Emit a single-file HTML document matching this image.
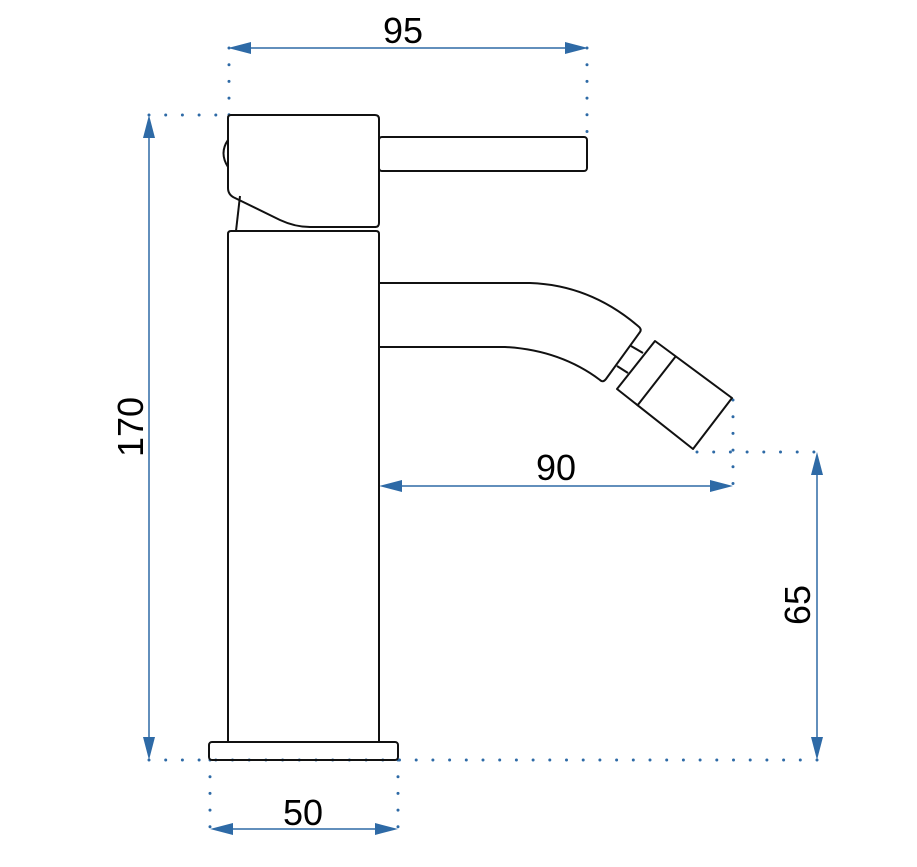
<!DOCTYPE html>
<html><head><meta charset="utf-8"><style>
html,body{margin:0;padding:0;background:#fff;}
svg{display:block}
text{font-family:"Liberation Sans",sans-serif;font-size:36px;fill:#000}
</style></head><body>
<svg width="917" height="867" viewBox="0 0 917 867" xmlns="http://www.w3.org/2000/svg">
<g fill="none" stroke="#2e6aa6" stroke-width="3" stroke-linecap="round" stroke-dasharray="0 16.7">
  <line x1="229" y1="48" x2="229" y2="115"/>
  <line x1="587" y1="48" x2="587" y2="132"/>
  <line x1="149" y1="115" x2="228" y2="115"/>
  <line x1="149" y1="760" x2="817" y2="760" stroke-dasharray="0 16.7"/>
  <line x1="817" y1="760" x2="817" y2="760.1"/>
  <line x1="733" y1="400" x2="733" y2="486"/>
  <line x1="697" y1="452" x2="817" y2="452"/>
  <line x1="210" y1="760" x2="210" y2="829"/>
  <line x1="398" y1="760" x2="398" y2="829"/>
</g>
<g stroke="#2e6aa6" stroke-width="1.5" fill="#2e6aa6">
  <line x1="240" y1="48" x2="576" y2="48"/>
  <polygon points="228,48 251,42 251,54" stroke="none"/>
  <polygon points="588,48 565,42 565,54" stroke="none"/>
  <line x1="149" y1="126" x2="149" y2="748"/>
  <polygon points="149,115 143,138 155,138" stroke="none"/>
  <polygon points="149,760 143,737 155,737" stroke="none"/>
  <line x1="390" y1="486" x2="722" y2="486"/>
  <polygon points="379,486 402,480 402,492" stroke="none"/>
  <polygon points="733,486 710,480 710,492" stroke="none"/>
  <line x1="817" y1="464" x2="817" y2="748"/>
  <polygon points="817,452 811,475 823,475" stroke="none"/>
  <polygon points="817,760 811,737 823,737" stroke="none"/>
  <line x1="221" y1="829" x2="387" y2="829"/>
  <polygon points="210,829 233,823 233,835" stroke="none"/>
  <polygon points="398,829 375,823 375,835" stroke="none"/>
</g>
<g fill="none" stroke="#111" stroke-width="2" stroke-linejoin="round">
  <path d="M231,115 H375 Q379,115 379,119 V223 Q379,227 375,227 H310 Q295,227 280,220 L235,198 Q228,195 228,188 V118 Q228,115 231,115 Z"/>
  <path d="M228,140 Q219,153 228,167"/>
  <rect x="379" y="137" width="208" height="34" rx="3"/>
  <line x1="240" y1="196" x2="236" y2="231"/>
  <line x1="310" y1="227" x2="376" y2="227"/>
  <path d="M228,742 V234 Q228,231 231,231 H376 Q379,231 379,234 V742"/>
  <rect x="209" y="742" width="189" height="18" rx="3"/>
  <path d="M379,283 H530 Q590,285 638,326 Q642,329 640,332 L606,379 Q603,383 600,380 Q560,350 505,347 H379"/>
  <line x1="631" y1="346" x2="643" y2="353"/>
  <line x1="617" y1="366" x2="628" y2="373"/>
  <path d="M655,341 L732,398 L693,449 L617,389 Z"/>
  <line x1="676" y1="356" x2="637" y2="406"/>
</g>
<text x="403" y="43" text-anchor="middle">95</text>
<text x="556" y="480" text-anchor="middle">90</text>
<text x="303" y="825" text-anchor="middle">50</text>
<text transform="translate(143,427) rotate(-90)" text-anchor="middle">170</text>
<text transform="translate(810,605) rotate(-90)" text-anchor="middle">65</text>
</svg>
</body></html>
